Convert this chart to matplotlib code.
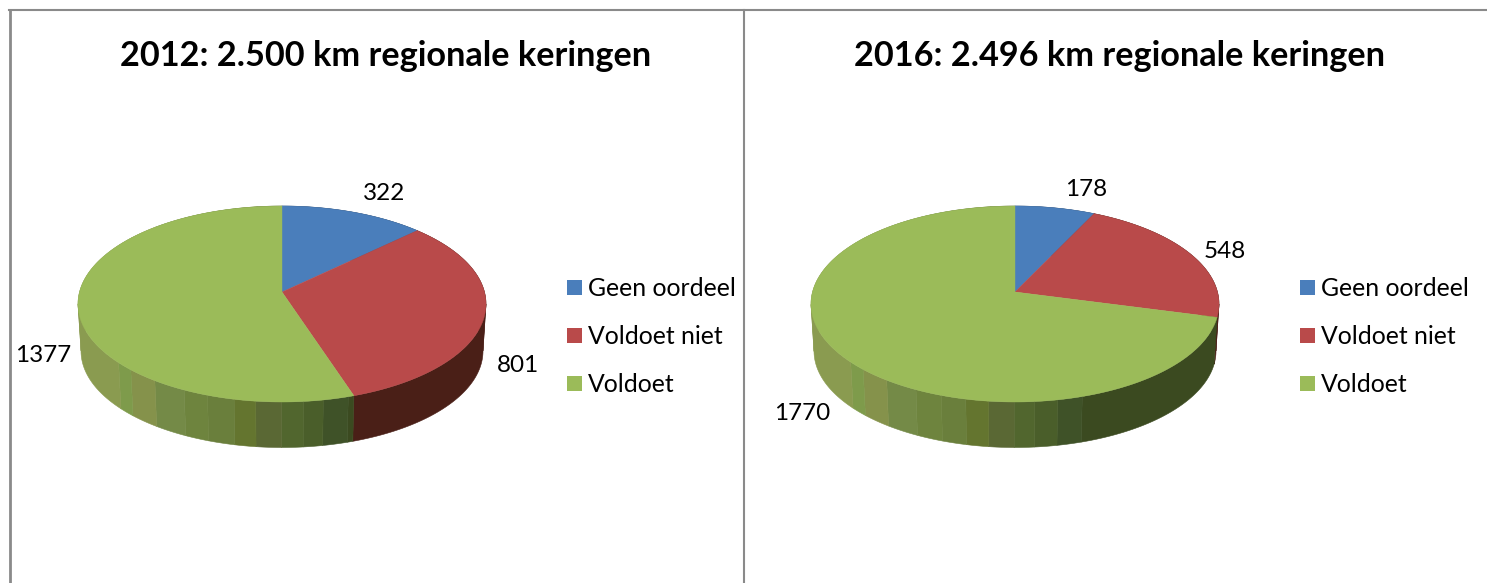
import numpy as np
import matplotlib
matplotlib.use("Agg")
import matplotlib.pyplot as plt

titles = ["2012: 2.500 km regionale keringen", "2016: 2.496 km regionale keringen"]
categories = ["Geen oordeel", "Voldoet niet", "Voldoet"]
values_2012 = [322, 801, 1377]
values_2016 = [178, 548, 1770]

top_colors = ["#4a7ebb", "#b94a4a", "#9bbb59"]
side_blue = "#27405f"
side_red = "#4a1f17"
# banded front of the green slice, left to right, flat dark after the last band
band_edges = [-163, -151, -127, -97, -73, -47, -25, 0, 22, 43, 68]
side_green = ["#8a9b50", "#7e9b4b", "#85924b", "#748a47", "#6e843e", "#6a7f3c",
              "#64752f", "#5a6834", "#51662e", "#4a5e2a", "#3f5228", "#3b4a20"]

FONT = "Lato"


def project(theta, cx, cy, rx, ry, a=-0.122):
    # circle to ellipse with the pie centre pushed back, theta clockwise from top
    u = np.sin(theta)
    v = -np.cos(theta)
    d = 1 + a * v
    return cx + rx * u * np.sqrt(1 - a * a) / d, cy + ry * (v + a) / d


def side_color(mid_x, cx, side):
    if side == 0:
        return side_blue
    if side == 1:
        return side_red
    return side_green[np.searchsorted(band_edges, mid_x - cx)]


def draw_side(ax, th, top, bottom, color):
    x0, y0 = project(th, *top)
    x1, y1 = project(th, *bottom)
    ax.fill(np.r_[x0, x1[::-1]], np.r_[y0, y1[::-1]], color=color, lw=0.4, zorder=2)


def draw_pie(ax, values, cx, label_pos):
    total = sum(values)
    edges = np.cumsum([0] + values) / total * 2 * np.pi
    top = (cx, 304, 204, 98)
    bottom = (cx, 351, 201, 96.5)

    # side wall first, top face covers whatever is behind it
    for i in range(len(values)):
        th = np.linspace(edges[i], edges[i + 1], 400)
        x, _ = project(th, *top)
        colors = [side_color(v, cx, i) for v in x]
        dirs = np.sign(np.diff(x))
        start = 0
        for k in range(1, len(th)):
            # a new piece per colour, and at the silhouette where x turns around
            turned = k < len(dirs) and dirs[k] != dirs[k - 1]
            if colors[k] != colors[start] or turned or k == len(th) - 1:
                draw_side(ax, th[start:k + 1], top, bottom, colors[start])
                start = k

    for i in range(len(values)):
        th = np.linspace(edges[i], edges[i + 1], 200)
        x, y = project(th, *top)
        ax.fill(np.r_[cx, x], np.r_[292, y], color=top_colors[i], lw=0.3, zorder=3)

    for v, (lx, ly) in zip(values, label_pos):
        ax.text(lx, ly, str(v), fontsize=17.5, family=FONT, ha="center", va="center", color="black")


def draw_legend(ax, x0):
    for name, color, y in zip(categories, top_colors, [287.5, 335.5, 383.5]):
        ax.fill([x0, x0 + 15, x0 + 15, x0], [y - 7.5, y - 7.5, y + 7.5, y + 7.5], color=color, lw=0)
        ax.text(x0 + 21, y + 0.5, name, fontsize=17.8, family=FONT, ha="left", va="center", color="black")


fig = plt.figure(figsize=(14.87, 5.83), dpi=100)
ax = fig.add_axes([0, 0, 1, 1])
ax.set_xlim(0, 1487)
ax.set_ylim(583, 0)
ax.axis("off")

# table borders, the right side is open
border = "#8a8a8a"
ax.plot([9.5, 9.5], [583, 10], color=border, lw=2)
ax.plot([8.5, 1487], [10, 10], color=border, lw=1.5)
ax.plot([744, 744], [10, 583], color=border, lw=1.5)

ax.text(386, 56, titles[0], fontsize=24.7, fontweight="bold", family=FONT, ha="center", va="center")
ax.text(1120, 56, titles[1], fontsize=24.7, fontweight="bold", family=FONT, ha="center", va="center")

draw_pie(ax, values_2012, 282, [(384, 194), (518.5, 366), (43.5, 356)])
draw_pie(ax, values_2016, 1015, [(1086, 189), (1225, 252), (802, 414)])
draw_legend(ax, 567)
draw_legend(ax, 1300)

fig.savefig("out.png", dpi=100)
